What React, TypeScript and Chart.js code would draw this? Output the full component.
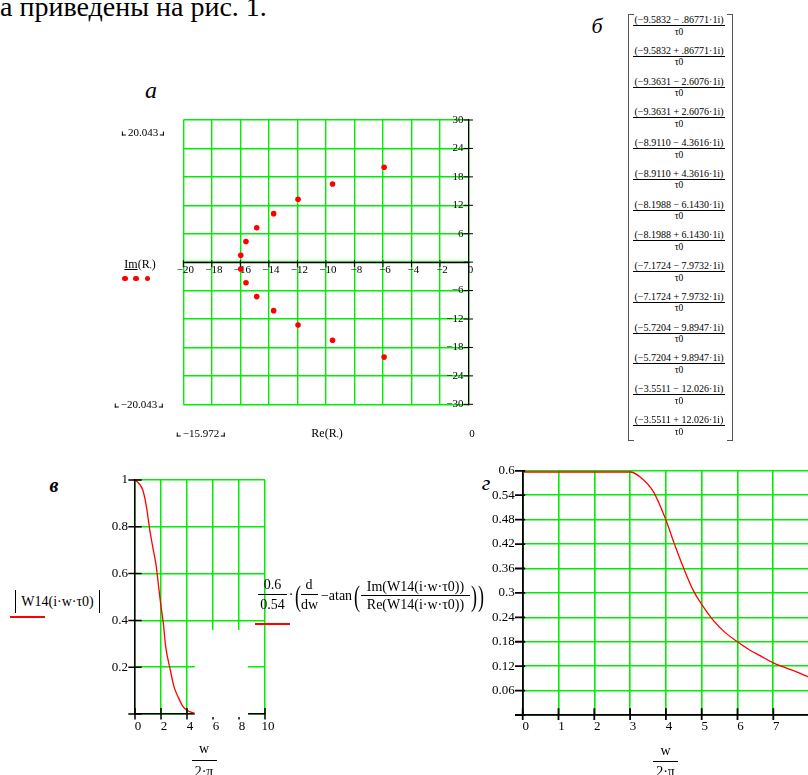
import React, { useEffect, useRef } from 'react';
import { Chart, registerables } from 'chart.js';

Chart.register(...registerables);

const SERIF = '"Liberation Serif", "Times New Roman", Times, serif';
const RED = '#ff0000';
const GREEN = '#00ee00';

// ---------- Figure а: poles in the complex plane ----------
const poleRe = [-15.972, -15.972, -15.605, -15.605, -14.852, -14.852, -13.665, -13.665, -11.954, -11.954, -9.534, -9.534, -5.919, -5.919];
const poleIm = [-1.446, 1.446, -4.346, 4.346, -7.269, 7.269, -10.238, 10.238, -13.289, 13.289, -16.491, 16.491, -20.043, 20.043];
const aXTicks = [-20, -18, -16, -14, -12, -10, -8, -6, -4, -2, 0];
const aXLabels = ['−20', '−18', '−16', '−14', '−12', '−10', '−8', '−6', '−4', '−2', '0'];
const aYTicks = [-30, -24, -18, -12, -6, 0, 6, 12, 18, 24, 30];
const aYLabels = ['−30', '−24', '−18', '−12', '−6', '', '6', '12', '18', '24', '30'];

// ---------- Figure б: matrix of roots ----------
const matrixRows = [
  '(−9.5832 − .86771·1i)', '(−9.5832 + .86771·1i)',
  '(−9.3631 − 2.6076·1i)', '(−9.3631 + 2.6076·1i)',
  '(−8.9110 − 4.3616·1i)', '(−8.9110 + 4.3616·1i)',
  '(−8.1988 − 6.1430·1i)', '(−8.1988 + 6.1430·1i)',
  '(−7.1724 − 7.9732·1i)', '(−7.1724 + 7.9732·1i)',
  '(−5.7204 − 9.8947·1i)', '(−5.7204 + 9.8947·1i)',
  '(−3.5511 − 12.026·1i)', '(−3.5511 + 12.026·1i)',
];

// ---------- Figure в: |W14| ----------
const magW = [0, 0.3, 0.6, 0.9, 1.1, 1.36, 1.62, 1.79, 1.97, 2.18, 2.36, 2.69, 3.0, 3.33, 3.67, 3.97, 4.3, 4.6];
const magVal = [1.0, 0.985, 0.957, 0.879, 0.8, 0.715, 0.637, 0.558, 0.473, 0.387, 0.288, 0.195, 0.117, 0.071, 0.034, 0.017, 0.008, 0.003];
const bXTicks = [0, 2, 4, 6, 8, 10];
const bXLabels = ['0', '2', '4', '6', '8', '10'];
const bYTicks = [0, 0.2, 0.4, 0.6, 0.8, 1];
const bYLabels = ['', '0.2', '0.4', '0.6', '0.8', '1'];

// ---------- Figure г: group delay ----------
const gdW = [0, 0.5, 1, 1.5, 2, 2.5, 3.0, 3.28, 3.65, 3.98, 4.21, 4.49, 4.77, 5.0, 5.33, 5.65, 5.98, 6.35, 6.63, 7.0, 7.28, 7.65, 7.91, 8.0];
const gdVal = [0.597, 0.597, 0.597, 0.597, 0.597, 0.597, 0.597, 0.585, 0.549, 0.484, 0.427, 0.362, 0.305, 0.272, 0.232, 0.203, 0.181, 0.159, 0.146, 0.128, 0.118, 0.106, 0.096, 0.093];
const gXTicks = [0, 1, 2, 3, 4, 5, 6, 7, 8];
const gXLabels = ['0', '1', '2', '3', '4', '5', '6', '7', '8'];
const gYTicks = [0, 0.06, 0.12, 0.18, 0.24, 0.3, 0.36, 0.42, 0.48, 0.54, 0.6];
const gYLabels = ['', '0.06', '0.12', '0.18', '0.24', '0.3', '0.36', '0.42', '0.48', '0.54', '0.6'];

type TickOpts = { xUp: number; xDown: number; yLeft: number; yRight: number; width: number; box?: number[] };

function crossTicks(o: TickOpts) {
  return {
    id: 'crossTicks',
    afterDraw(chart: any) {
      const { ctx } = chart;
      const xs = chart.scales.x;
      const ys = chart.scales.y;
      const ax = xs.getPixelForValue(0);
      const ay = ys.getPixelForValue(0);
      ctx.save();
      ctx.strokeStyle = '#000';
      ctx.lineWidth = o.width;
      ctx.beginPath();
      xs.ticks.forEach((t: any) => {
        const p = xs.getPixelForValue(t.value);
        ctx.moveTo(p, ay - o.xUp);
        ctx.lineTo(p, ay + o.xDown);
      });
      ys.ticks.forEach((t: any) => {
        const p = ys.getPixelForValue(t.value);
        ctx.moveTo(ax - o.yLeft, p);
        ctx.lineTo(ax + o.yRight, p);
      });
      ctx.stroke();
      if (o.box) {
        // blank region (overlapping Mathcad region) given in data coords [x0, x1, y0, y1]
        const x0 = xs.getPixelForValue(o.box[0]);
        const x1 = xs.getPixelForValue(o.box[1]);
        const y0 = ys.getPixelForValue(o.box[3]);
        const y1 = ys.getPixelForValue(o.box[2]);
        ctx.fillStyle = '#fff';
        ctx.fillRect(x0, y0, x1 - x0, y1 - y0);
      }
      ctx.restore();
    },
  };
}

function tickCfg(values: number[]) {
  return (scale: any) => {
    scale.ticks = values.map((value) => ({ value }));
  };
}

function configA(): any {
  return {
    type: 'scatter',
    data: {
      datasets: [{
        data: poleRe.map((x, i) => ({ x, y: poleIm[i] })),
        pointRadius: 2.8,
        pointBackgroundColor: RED,
        pointBorderWidth: 0,
        showLine: false,
      }],
    },
    options: {
      animation: false,
      responsive: false,
      events: [],
      layout: { padding: { left: 43.3, right: 31.5, top: 20, bottom: 25.7 } },
      plugins: { legend: { display: false }, tooltip: { enabled: false } },
      scales: {
        x: {
          type: 'linear', min: -20, max: 0, position: { y: 0 },
          afterFit: (s: any) => { s.height = 0; },
          afterBuildTicks: tickCfg(aXTicks),
          grid: { color: GREEN, lineWidth: 1.4, drawTicks: false },
          border: { color: '#000', width: 1.2 },
          ticks: {
            autoSkip: false, maxRotation: 0, padding: 1.2, labelOffset: 2, color: '#000',
            font: { family: SERIF, size: 11 },
            callback: (_v: any, i: number) => aXLabels[i],
          },
        },
        y: {
          type: 'linear', min: -30, max: 30, position: 'right',
          afterFit: (s: any) => { s.width = 0; },
          afterBuildTicks: tickCfg(aYTicks),
          grid: { color: GREEN, lineWidth: 1.4, drawTicks: false },
          border: { color: '#000', width: 1.2 },
          ticks: {
            autoSkip: false, mirror: true, padding: -5, color: '#000',
            font: { family: SERIF, size: 11 },
            callback: (_v: any, i: number) => aYLabels[i],
          },
        },
      },
    },
    plugins: [crossTicks({ xUp: 2, xDown: 5, yLeft: 5, yRight: 4.5, width: 1 })],
  };
}

function configB(): any {
  return {
    type: 'scatter',
    data: {
      datasets: [{
        data: magW.map((x, i) => ({ x, y: magVal[i] })),
        showLine: true,
        borderColor: RED,
        borderWidth: 1.3,
        pointRadius: 0,
        cubicInterpolationMode: 'monotone',
      }],
    },
    options: {
      animation: false,
      responsive: false,
      events: [],
      layout: { padding: { left: 0, right: 25, top: 15, bottom: 0 } },
      plugins: { legend: { display: false }, tooltip: { enabled: false } },
      scales: {
        x: {
          type: 'linear', min: 0, max: 10, position: 'bottom',
          afterFit: (s: any) => { s.height = 41; },
          afterBuildTicks: tickCfg(bXTicks),
          grid: { color: GREEN, lineWidth: 1.5, drawTicks: false },
          border: { color: '#000', width: 1.5 },
          ticks: {
            autoSkip: false, maxRotation: 0, padding: 5, labelOffset: 3, color: '#000',
            font: { family: SERIF, size: 13 },
            callback: (_v: any, i: number) => bXLabels[i],
          },
        },
        y: {
          type: 'linear', min: 0, max: 1, position: 'left',
          afterFit: (s: any) => { s.width = 35; },
          afterBuildTicks: tickCfg(bYTicks),
          grid: { color: GREEN, lineWidth: 1.5, drawTicks: false },
          border: { color: '#000', width: 1.5 },
          ticks: {
            autoSkip: false, padding: 7, color: '#000',
            font: { family: SERIF, size: 13 },
            callback: (_v: any, i: number) => bYLabels[i],
          },
        },
      },
    },
    plugins: [crossTicks({ xUp: 6, xDown: 5.5, yLeft: 6.7, yRight: 6.7, width: 1.5, box: [4.6, 8.7, -0.013, 0.359] })],
  };
}

function configG(): any {
  return {
    type: 'scatter',
    data: {
      datasets: [{
        data: gdW.map((x, i) => ({ x, y: gdVal[i] })),
        showLine: true,
        borderColor: RED,
        borderWidth: 1.3,
        pointRadius: 0,
        cubicInterpolationMode: 'monotone',
      }],
    },
    options: {
      animation: false,
      responsive: false,
      events: [],
      layout: { padding: { left: 0, right: 15.9, top: 14, bottom: 0 } },
      plugins: { legend: { display: false }, tooltip: { enabled: false } },
      scales: {
        x: {
          type: 'linear', min: 0, max: 8, position: 'bottom',
          afterFit: (s: any) => { s.height = 35; },
          afterBuildTicks: tickCfg(gXTicks),
          grid: { color: GREEN, lineWidth: 1.6, drawTicks: false },
          border: { color: '#000', width: 1.8 },
          ticks: {
            autoSkip: false, maxRotation: 0, padding: 4, labelOffset: 3, color: '#000',
            font: { family: SERIF, size: 13 },
            callback: (_v: any, i: number) => gXLabels[i],
          },
        },
        y: {
          type: 'linear', min: 0, max: 0.6, position: 'left',
          afterFit: (s: any) => { s.width = 42.7; },
          afterBuildTicks: tickCfg(gYTicks),
          grid: { color: GREEN, lineWidth: 1.6, drawTicks: false },
          border: { color: '#000', width: 1.8 },
          ticks: {
            autoSkip: false, padding: 8, color: '#000',
            font: { family: SERIF, size: 13 },
            callback: (_v: any, i: number) => gYLabels[i],
          },
        },
      },
    },
    plugins: [crossTicks({ xUp: 6.7, xDown: 5, yLeft: 7.7, yRight: 2.5, width: 1.8 })],
  };
}

function ChartCanvas(props: { left: number; top: number; width: number; height: number; make: () => any }) {
  const ref = useRef<HTMLCanvasElement>(null);
  useEffect(() => {
    const chart = new Chart(ref.current as HTMLCanvasElement, props.make());
    return () => chart.destroy();
  }, []);
  return (
    <canvas
      ref={ref}
      width={props.width}
      height={props.height}
      style={{ position: 'absolute', left: props.left, top: props.top, width: props.width, height: props.height }}
    />
  );
}

function Txt(props: { x: number; y: number; size?: number; italic?: boolean; bold?: boolean; align?: string; children: any; style?: any }) {
  const { x, y, size = 13, italic = false, bold = false, align = 'center', children, style = {} } = props;
  const tx = align === 'center' ? '-50%' : align === 'right' ? '-100%' : '0';
  return (
    <div
      style={{
        position: 'absolute', left: x, top: y, transform: `translate(${tx}, -50%)`,
        fontFamily: SERIF, fontSize: size, fontStyle: italic ? 'italic' : 'normal',
        fontWeight: bold ? 'bold' : 'normal', lineHeight: 1, whiteSpace: 'nowrap', color: '#000', ...style,
      }}
    >
      {children}
    </div>
  );
}

function HLine(props: { x: number; y: number; w: number; h?: number; color?: string }) {
  return <div style={{ position: 'absolute', left: props.x, top: props.y, width: props.w, height: props.h || 1, background: props.color || '#000' }} />;
}

function Corner(props: { right?: boolean }) {
  return (
    <span
      style={{
        display: 'inline-block', width: 3, height: 3, verticalAlign: 'baseline',
        borderBottom: '1px solid #000',
        borderLeft: props.right ? 'none' : '1px solid #000',
        borderRight: props.right ? '1px solid #000' : 'none',
        margin: '0 2px',
      }}
    />
  );
}

function Placeholder(props: { x: number; y: number; text: string }) {
  return (
    <Txt x={props.x} y={props.y} size={11}>
      <Corner />{props.text}<Corner right />
    </Txt>
  );
}

function Paren(props: { x: number; y: number; ch: string }) {
  return <Txt x={props.x} y={props.y} size={30} style={{ transform: 'translate(-50%, -50%) scaleX(0.6)' }}>{props.ch}</Txt>;
}

export default function App() {
  return (
    <div style={{ position: 'absolute', left: 0, top: 0, width: 808, height: 775, overflow: 'hidden', background: '#fff' }}>
      {/* running text */}
      <div style={{ position: 'absolute', left: 0, top: -7, fontFamily: SERIF, fontSize: 28, lineHeight: 1, whiteSpace: 'nowrap' }}>
        а приведены на рис. 1.
      </div>

      {/* figure labels */}
      <Txt x={151} y={90} size={24} italic>а</Txt>
      <Txt x={597} y={26} size={22} italic>б</Txt>
      <Txt x={54} y={485} size={20} italic bold>в</Txt>
      <Txt x={486} y={483} size={22} italic>г</Txt>

      {/* Figure а */}
      <ChartCanvas left={140} top={100} width={360} height={330} make={configA} />
      <Placeholder x={143} y={132} text="20.043" />
      <Placeholder x={139} y={404} text="−20.043" />
      <Placeholder x={201} y={433} text="−15.972" />
      <Txt x={327} y={433} size={12}>Re(R<span style={{ fontSize: 8 }}>,</span>)</Txt>
      <Txt x={472} y={433} size={11}>0</Txt>
      <Txt x={140} y={264} size={12}><span style={{ textDecoration: 'underline' }}>Im</span>(R<span style={{ fontSize: 8 }}>,</span>)</Txt>
      {[125, 136, 147.3].map((cx) => (
        <div key={cx} style={{ position: 'absolute', left: cx - 2.8, top: 278.3 - 2.8, width: 5.6, height: 5.6, borderRadius: '50%', background: RED }} />
      ))}

      {/* Figure б: matrix */}
      <div style={{ position: 'absolute', left: 628, top: 14, width: 5, height: 425, borderLeft: '1px solid #555', borderTop: '1px solid #555', borderBottom: '1px solid #555' }} />
      <div style={{ position: 'absolute', left: 727, top: 14, width: 5, height: 425, borderRight: '1px solid #555', borderTop: '1px solid #555', borderBottom: '1px solid #555' }} />
      {matrixRows.map((r, i) => (
        <React.Fragment key={i}>
          <Txt x={679} y={20 + 30.77 * i} size={10}>{r}</Txt>
          <HLine x={633} y={25 + 30.77 * i} w={92} />
          <Txt x={679} y={32.5 + 30.77 * i} size={9.5}>τ0</Txt>
        </React.Fragment>
      ))}

      {/* Figure в */}
      <ChartCanvas left={100} top={465} width={190} height={290} make={configB} />
      <div style={{ position: 'absolute', left: 15, top: 590, width: 1.3, height: 23, background: '#000' }} />
      <div style={{ position: 'absolute', left: 99, top: 590, width: 1.3, height: 23, background: '#000' }} />
      <Txt x={57.5} y={602} size={14}>W14(i·w·τ0)</Txt>
      <HLine x={10} y={616} w={35} h={2} color={RED} />
      <Txt x={204} y={749} size={14}>w</Txt>
      <HLine x={192} y={760} w={25} />
      <Txt x={204} y={772} size={14}>2·π</Txt>

      {/* y-axis expression of Figure г */}
      <Txt x={272.5} y={585} size={14}>0.6</Txt>
      <HLine x={258} y={594} w={29} />
      <Txt x={272.5} y={605} size={14}>0.54</Txt>
      <Txt x={291} y={595} size={14}>·</Txt>
      <Paren x={297.5} y={596} ch="(" />
      <Txt x={309} y={585} size={14}>d</Txt>
      <HLine x={301} y={594} w={17} />
      <Txt x={309.5} y={605} size={14}>dw</Txt>
      <Txt x={336.5} y={596} size={14}>−atan</Txt>
      <Paren x={357} y={596} ch="(" />
      <Txt x={415.5} y={586.5} size={14}>Im(W14(i·w·τ0))</Txt>
      <HLine x={361} y={595} w={109} />
      <Txt x={415.5} y={605} size={14}>Re(W14(i·w·τ0))</Txt>
      <Paren x={474} y={596} ch=")" />
      <Paren x={481} y={596} ch=")" />
      <HLine x={255} y={622.5} w={35} h={2} color={RED} />

      {/* Figure г */}
      <ChartCanvas left={480} top={455} width={345} height={295} make={configG} />
      <Txt x={665.5} y={751} size={14}>w</Txt>
      <HLine x={653} y={760.5} w={25} />
      <Txt x={665.5} y={772} size={14}>2·π</Txt>
    </div>
  );
}
